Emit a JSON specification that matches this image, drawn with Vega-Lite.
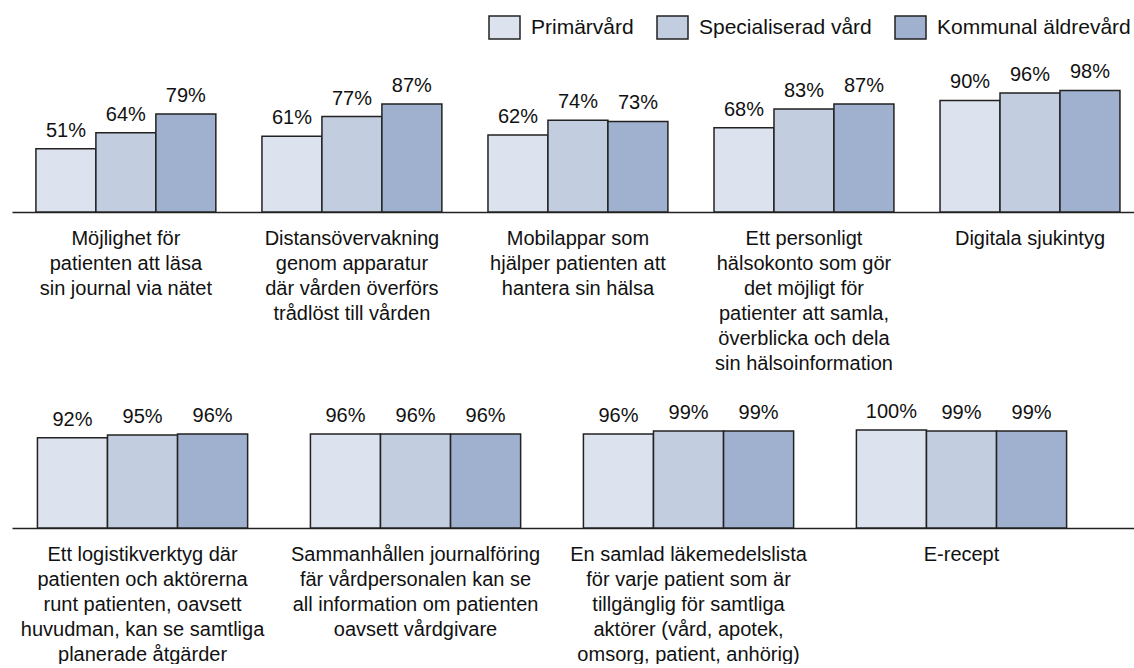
{
  "$schema": "https://vega.github.io/schema/vega-lite/v6.json",
  "padding": {"left": 12, "top": 11, "right": 0, "bottom": 0},
  "background": "white",
  "bounds": "flush",
  "spacing": 218,
  "resolve": {"scale": {"x": "independent", "xOffset": "independent", "y": "independent"}},
  "config": {
    "view": {"stroke": null},
    "font": "Liberation Sans",
    "text": {"font": "Liberation Sans"}
  },
  "datasets": {
    "andelar": [
      {"rad": 1, "kategori": "Möjlighet för|patienten att läsa|sin journal via nätet", "grupp": "Primärvård", "andel": 0.51},
      {"rad": 1, "kategori": "Möjlighet för|patienten att läsa|sin journal via nätet", "grupp": "Specialiserad vård", "andel": 0.64},
      {"rad": 1, "kategori": "Möjlighet för|patienten att läsa|sin journal via nätet", "grupp": "Kommunal äldrevård", "andel": 0.79},
      {"rad": 1, "kategori": "Distansövervakning|genom apparatur|där vården överförs|trådlöst till vården", "grupp": "Primärvård", "andel": 0.61},
      {"rad": 1, "kategori": "Distansövervakning|genom apparatur|där vården överförs|trådlöst till vården", "grupp": "Specialiserad vård", "andel": 0.77},
      {"rad": 1, "kategori": "Distansövervakning|genom apparatur|där vården överförs|trådlöst till vården", "grupp": "Kommunal äldrevård", "andel": 0.87},
      {"rad": 1, "kategori": "Mobilappar som|hjälper patienten att|hantera sin hälsa", "grupp": "Primärvård", "andel": 0.62},
      {"rad": 1, "kategori": "Mobilappar som|hjälper patienten att|hantera sin hälsa", "grupp": "Specialiserad vård", "andel": 0.74},
      {"rad": 1, "kategori": "Mobilappar som|hjälper patienten att|hantera sin hälsa", "grupp": "Kommunal äldrevård", "andel": 0.73},
      {"rad": 1, "kategori": "Ett personligt|hälsokonto som gör|det möjligt för|patienter att samla,|överblicka och dela|sin hälsoinformation", "grupp": "Primärvård", "andel": 0.68},
      {"rad": 1, "kategori": "Ett personligt|hälsokonto som gör|det möjligt för|patienter att samla,|överblicka och dela|sin hälsoinformation", "grupp": "Specialiserad vård", "andel": 0.83},
      {"rad": 1, "kategori": "Ett personligt|hälsokonto som gör|det möjligt för|patienter att samla,|överblicka och dela|sin hälsoinformation", "grupp": "Kommunal äldrevård", "andel": 0.87},
      {"rad": 1, "kategori": "Digitala sjukintyg", "grupp": "Primärvård", "andel": 0.90},
      {"rad": 1, "kategori": "Digitala sjukintyg", "grupp": "Specialiserad vård", "andel": 0.96},
      {"rad": 1, "kategori": "Digitala sjukintyg", "grupp": "Kommunal äldrevård", "andel": 0.98},
      {"rad": 2, "kategori": "Ett logistikverktyg där|patienten och aktörerna|runt patienten, oavsett|huvudman, kan se samtliga|planerade åtgärder", "grupp": "Primärvård", "andel": 0.92},
      {"rad": 2, "kategori": "Ett logistikverktyg där|patienten och aktörerna|runt patienten, oavsett|huvudman, kan se samtliga|planerade åtgärder", "grupp": "Specialiserad vård", "andel": 0.95},
      {"rad": 2, "kategori": "Ett logistikverktyg där|patienten och aktörerna|runt patienten, oavsett|huvudman, kan se samtliga|planerade åtgärder", "grupp": "Kommunal äldrevård", "andel": 0.96},
      {"rad": 2, "kategori": "Sammanhållen journalföring|fär vårdpersonalen kan se|all information om patienten|oavsett vårdgivare", "grupp": "Primärvård", "andel": 0.96},
      {"rad": 2, "kategori": "Sammanhållen journalföring|fär vårdpersonalen kan se|all information om patienten|oavsett vårdgivare", "grupp": "Specialiserad vård", "andel": 0.96},
      {"rad": 2, "kategori": "Sammanhållen journalföring|fär vårdpersonalen kan se|all information om patienten|oavsett vårdgivare", "grupp": "Kommunal äldrevård", "andel": 0.96},
      {"rad": 2, "kategori": "En samlad läkemedelslista|för varje patient som är|tillgänglig för samtliga|aktörer (vård, apotek,|omsorg, patient, anhörig)", "grupp": "Primärvård", "andel": 0.96},
      {"rad": 2, "kategori": "En samlad läkemedelslista|för varje patient som är|tillgänglig för samtliga|aktörer (vård, apotek,|omsorg, patient, anhörig)", "grupp": "Specialiserad vård", "andel": 0.99},
      {"rad": 2, "kategori": "En samlad läkemedelslista|för varje patient som är|tillgänglig för samtliga|aktörer (vård, apotek,|omsorg, patient, anhörig)", "grupp": "Kommunal äldrevård", "andel": 0.99},
      {"rad": 2, "kategori": "E-recept", "grupp": "Primärvård", "andel": 1.00},
      {"rad": 2, "kategori": "E-recept", "grupp": "Specialiserad vård", "andel": 0.99},
      {"rad": 2, "kategori": "E-recept", "grupp": "Kommunal äldrevård", "andel": 0.99}
    ]
  },
  "data": {"name": "andelar"},
  "vconcat": [
    {
      "width": 1122,
      "height": 124,
      "transform": [{"filter": "datum.rad == 1"}],
      "encoding": {
        "x": {
          "field": "kategori", "type": "nominal", "sort": null,
          "scale": {"paddingInner": 0.204, "paddingOuter": 0.084, "align": 0.63},
          "axis": {
            "title": null, "labelAngle": 0, "ticks": false,
            "domainColor": "#222222", "domainWidth": 1.5,
            "labelExpr": "split(datum.value, '|')",
            "labelFontSize": 20, "labelLineHeight": 25, "labelColor": "#111111",
            "labelPadding": 16, "labelBaseline": "top", "labelLimit": 400, "labelFont": "Liberation Sans"
          }
        },
        "xOffset": {"field": "grupp", "type": "nominal", "sort": ["Primärvård", "Specialiserad vård", "Kommunal äldrevård"], "scale": {"paddingInner": 0, "paddingOuter": 0}},
        "y": {"field": "andel", "type": "quantitative", "scale": {"domain": [0, 1], "nice": false}, "axis": null}
      },
      "layer": [
        {
          "mark": {"type": "bar", "stroke": "#222222", "strokeWidth": 1.5},
          "encoding": {
            "fill": {
              "field": "grupp", "type": "nominal",
              "sort": ["Primärvård", "Specialiserad vård", "Kommunal äldrevård"],
              "scale": {"domain": ["Primärvård", "Specialiserad vård", "Kommunal äldrevård"], "range": ["#dde3ee", "#c2cddf", "#9fb1cf"]},
              "legend": {
                "title": null, "orient": "none", "direction": "horizontal",
                "legendX": 476, "legendY": -77,
                "symbolType": "M-1,-0.74L1,-0.74L1,0.74L-1,0.74Z", "symbolSize": 961, "symbolStrokeColor": "#222222", "symbolStrokeWidth": 1.5, "symbolOpacity": 1,
                "labelFontSize": 21, "labelColor": "#111111", "labelFont": "Liberation Sans", "labelLimit": 400,
                "columnPadding": 20, "symbolOffset": 0, "labelOffset": 10
              }
            }
          }
        },
        {
          "mark": {"type": "text", "baseline": "bottom", "dy": -8, "fontSize": 20, "color": "#111111", "font": "Liberation Sans"},
          "encoding": {"text": {"field": "andel", "type": "quantitative", "format": ".0%"}}
        }
      ]
    },
    {
      "width": 1122,
      "height": 98,
      "transform": [{"filter": "datum.rad == 2"}],
      "encoding": {
        "x": {
          "field": "kategori", "type": "nominal", "sort": null,
          "scale": {"paddingInner": 0.23, "paddingOuter": 0.17, "align": 0.274},
          "axis": {
            "title": null, "labelAngle": 0, "ticks": false,
            "domainColor": "#222222", "domainWidth": 1.5,
            "labelExpr": "split(datum.value, '|')",
            "labelFontSize": 20, "labelLineHeight": 25, "labelColor": "#111111",
            "labelPadding": 16, "labelBaseline": "top", "labelLimit": 400, "labelFont": "Liberation Sans"
          }
        },
        "xOffset": {"field": "grupp", "type": "nominal", "sort": ["Primärvård", "Specialiserad vård", "Kommunal äldrevård"], "scale": {"paddingInner": 0, "paddingOuter": 0}},
        "y": {"field": "andel", "type": "quantitative", "scale": {"domain": [0, 1], "nice": false}, "axis": null}
      },
      "layer": [
        {
          "mark": {"type": "bar", "stroke": "#222222", "strokeWidth": 1.5},
          "encoding": {
            "fill": {
              "field": "grupp", "type": "nominal",
              "sort": ["Primärvård", "Specialiserad vård", "Kommunal äldrevård"],
              "scale": {"domain": ["Primärvård", "Specialiserad vård", "Kommunal äldrevård"], "range": ["#dde3ee", "#c2cddf", "#9fb1cf"]},
              "legend": null
            }
          }
        },
        {
          "mark": {"type": "text", "baseline": "bottom", "dy": -8, "fontSize": 20, "color": "#111111", "font": "Liberation Sans"},
          "encoding": {"text": {"field": "andel", "type": "quantitative", "format": ".0%"}}
        }
      ]
    }
  ]
}
